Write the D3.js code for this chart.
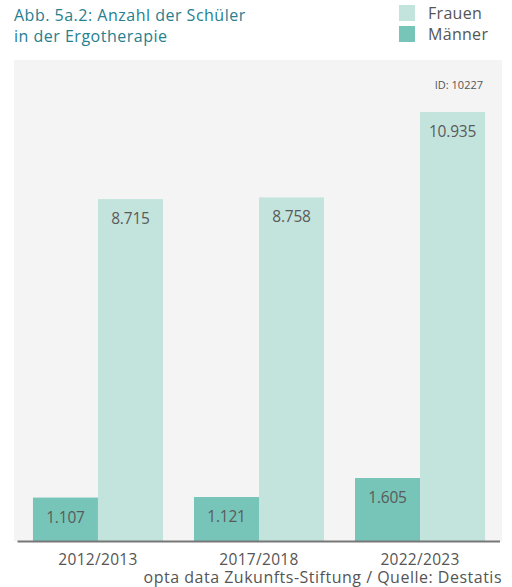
<!DOCTYPE html>
<html>
<head>
<meta charset="utf-8">
<script src="https://cdn.jsdelivr.net/npm/d3@7"></script>
<style>
  html, body { margin: 0; padding: 0; background: #ffffff; }
  svg { display: block; }
  text { font-family: "Open Sans", "Noto Sans", sans-serif; }
</style>
</head>
<body>
<svg id="chart" width="512" height="587"></svg>
<script>
// School years and numbers of students in occupational therapy training
const years = ["2012/2013", "2017/2018", "2022/2023"];
const maenner = [1107, 1121, 1605];
const frauen = [8715, 8758, 10935];
const seriesNames = ["Männer", "Frauen"];
const seriesColors = ["#77c5b8", "#c3e4dd"];
const legendOrder = ["Frauen", "Männer"];

const fmt = v => d3.format(",")(v).replace(/,/g, ".");

const svg = d3.select("#chart");

const plot = { left: 14, right: 502, top: 60, bottom: 541 };

// plot panel background
svg.append("rect")
  .attr("x", plot.left).attr("y", plot.top)
  .attr("width", plot.right - plot.left)
  .attr("height", plot.bottom - plot.top)
  .attr("fill", "#f4f4f4");

const x = d3.scaleBand()
  .domain(years)
  .range([17.5, 500.5])
  .paddingInner(0.1925)
  .paddingOuter(0.096);

const xs = d3.scaleBand()
  .domain(seriesNames)
  .range([0, x.bandwidth()]);

const y = d3.scaleLinear()
  .domain([0, 12000])
  .range([plot.bottom, plot.bottom - 470.8]);

const rows = years.map((yr, i) => ({
  year: yr,
  values: [
    { key: "Männer", value: maenner[i] },
    { key: "Frauen", value: frauen[i] }
  ]
}));

const color = d3.scaleOrdinal().domain(seriesNames).range(seriesColors);

const groups = svg.append("g").selectAll("g")
  .data(rows)
  .join("g")
  .attr("transform", d => `translate(${x(d.year)},0)`);

groups.selectAll("rect")
  .data(d => d.values)
  .join("rect")
  .attr("x", d => xs(d.key))
  .attr("y", d => y(d.value))
  .attr("width", xs.bandwidth())
  .attr("height", d => y(0) - y(d.value))
  .attr("fill", d => color(d.key));

groups.selectAll("text.val")
  .data(d => d.values)
  .join("text")
  .attr("class", "val")
  .attr("x", d => xs(d.key) + xs.bandwidth() / 2)
  .attr("y", d => y(d.value) + 25)
  .attr("text-anchor", "middle")
  .attr("font-size", 15.5)
  .attr("letter-spacing", "-0.2")
  .attr("fill", "#5a5a5a")
  .text(d => fmt(d.value));

// x axis
const xAxis = svg.append("g")
  .attr("transform", `translate(0,${plot.bottom})`)
  .call(d3.axisBottom(x).tickSize(0).tickPadding(13));
xAxis.select(".domain").remove();
xAxis.selectAll("text")
  .attr("font-size", 15.5)
  .attr("letter-spacing", "0.3")
  .attr("fill", "#555555")
  .style("font-family", '"Open Sans", "Noto Sans", sans-serif');

svg.append("line")
  .attr("x1", 17.5).attr("x2", 500)
  .attr("y1", plot.bottom + 0.5).attr("y2", plot.bottom + 0.5)
  .attr("stroke", "#777777")
  .attr("stroke-width", 2);

// title
const title = svg.append("text")
  .attr("font-size", 16)
  .attr("letter-spacing", "0.5")
  .attr("fill", "#26808f");
title.append("tspan").attr("x", 14).attr("y", 21).text("Abb. 5a.2: Anzahl der Schüler");
title.append("tspan").attr("x", 14).attr("y", 42).text("in der Ergotherapie");

// legend
const legend = svg.append("g").selectAll("g")
  .data(legendOrder)
  .join("g")
  .attr("transform", (d, i) => `translate(399,${5 + i * 21})`);
legend.append("rect")
  .attr("width", 16).attr("height", 16)
  .attr("fill", d => color(d));
legend.append("text")
  .attr("x", 29).attr("y", 14)
  .attr("font-size", 16)
  .attr("letter-spacing", "0.3")
  .attr("fill", "#555555")
  .text(d => d);

// chart id
svg.append("text")
  .attr("x", 483).attr("y", 89)
  .attr("text-anchor", "end")
  .attr("font-size", 11)
  .attr("fill", "#555555")
  .text("ID: 10227");

// source
svg.append("text")
  .attr("x", 502).attr("y", 583)
  .attr("text-anchor", "end")
  .attr("font-size", 16)
  .attr("letter-spacing", "0.5")
  .attr("fill", "#555555")
  .text("opta data Zukunfts-Stiftung / Quelle: Destatis");
</script>
</body>
</html>
